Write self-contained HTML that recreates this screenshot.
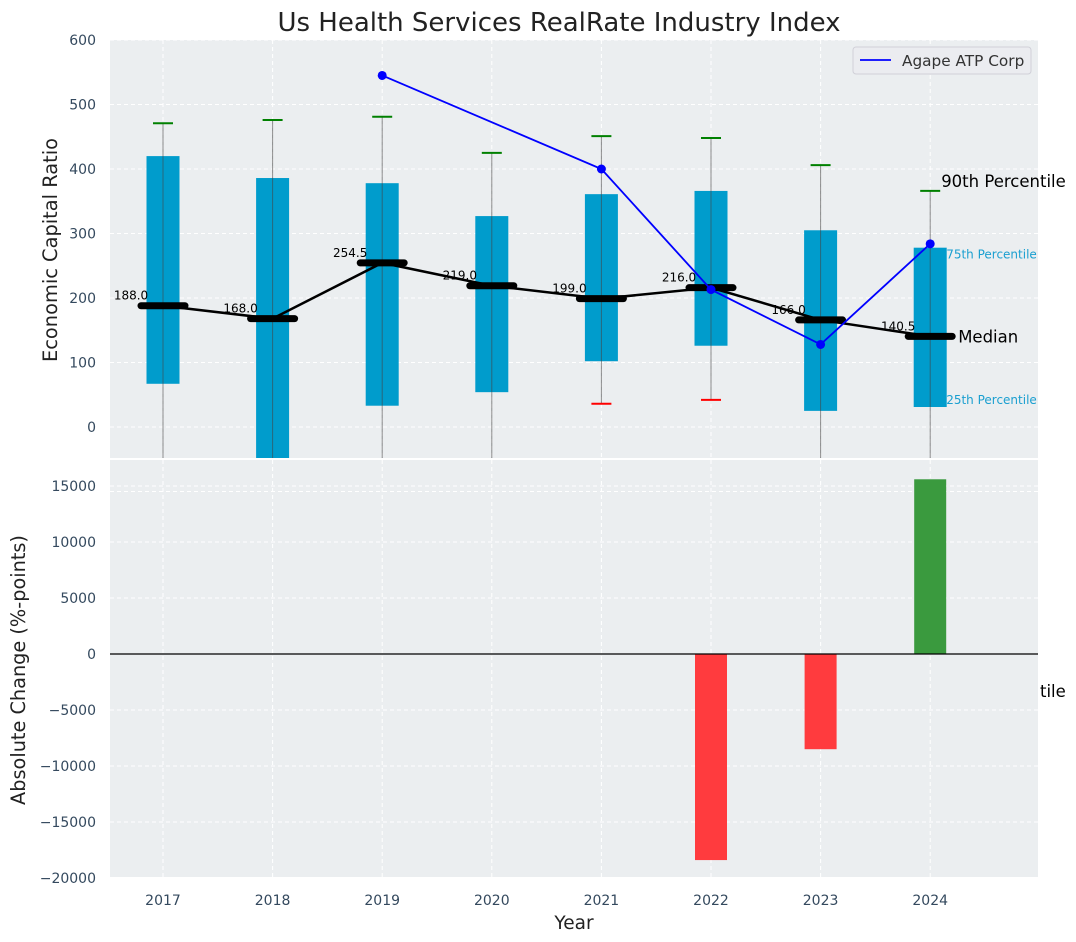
<!DOCTYPE html>
<html><head><meta charset="utf-8"><style>
body{margin:0;background:#fff;}
svg{display:block;font-family:"DejaVu Sans","Liberation Sans",sans-serif;}
</style></head><body>
<svg id="c" width="1076" height="942" viewBox="0 0 1076 942"></svg>
<script>
const years=[2017,2018,2019,2020,2021,2022,2023,2024];
const q75=[420,386,378,327,361,366,305,278];
const q25=[67,-60,33,54,102,126,25,31];
const p90=[471,476,481,425,451,448,406,366];
const p10=[-100,-100,-100,-100,36,42,-100,-100];
const medians=[188,168,254.5,219,199,216,166,140.5];
const agapeYears=[2019,2021,2022,2023,2024];
const agapeVals=[545,400,213,128,284];
const changeYears=[2022,2023,2024];
const changeVals=[-18400,-8500,15600];
const topTicks=[0,100,200,300,400,500,600];
const botTicks=[-20000,-15000,-10000,-5000,0,5000,10000,15000];

const NS="http://www.w3.org/2000/svg";
const svg=document.getElementById('c');
function el(t,a,p){const e=document.createElementNS(NS,t);for(const k in a)e.setAttribute(k,a[k]);(p||svg).appendChild(e);return e;}
const fmt=t=>t<0?'\u2212'+(-t):String(t);
const L=110,R=1038;
const X=y=>163+(y-2017)*109.6;
const T0=40,T1=458,B0=460,B1=877;
const yT=v=>427-v*0.645;
const yB=v=>654-v*(56/5000);

let e=el('rect',{x:L,y:T0,width:R-L,height:T1-T0,fill:'#ebeef0'});

e=el('rect',{x:L,y:B0,width:R-L,height:B1-B0,fill:'#ebeef0'});


const gT=el('g',{});
const gB=el('g',{});
topTicks.forEach(t=>{const y=yT(t);
 el('line',{x1:L,x2:R,y1:y,y2:y,stroke:'#fff','stroke-dasharray':'4,3','stroke-width':1},gT);
 e=el('text',{x:96,y:y+5,'text-anchor':'end','font-size':14,fill:'#34495e'});e.textContent=fmt(t);
 
});
el('line',{x1:L,x2:R,y1:yT(-100),y2:yT(-100),stroke:'#fff','stroke-dasharray':'4,3'},gT);
botTicks.forEach(t=>{const y=yB(t);
 el('line',{x1:L,x2:R,y1:y,y2:y,stroke:'#fff','stroke-dasharray':'4,3'},gB);
 e=el('text',{x:96,y:y+5,'text-anchor':'end','font-size':14,fill:'#34495e'});e.textContent=fmt(t);
 
});
years.forEach(yr=>{const x=X(yr);
 el('line',{x1:x,x2:x,y1:T0,y2:T1,stroke:'#fff','stroke-dasharray':'4,3'},gT);
 el('line',{x1:x,x2:x,y1:B0,y2:B1,stroke:'#fff','stroke-dasharray':'4,3'},gB);
 e=el('text',{x:x,y:905,'text-anchor':'middle','font-size':14,fill:'#34495e'});e.textContent=yr;
 
});

const defs=el('defs',{});
const cp=el('clipPath',{id:'cpT'},defs);el('rect',{x:L,y:T0,width:R-L+80,height:T1-T0},cp);
const cg=el('g',{'clip-path':'url(#cpT)'});

years.forEach((yr,i)=>{const x=X(yr);
 e=el('rect',{x:x-16.5,y:yT(q75[i]),width:33,height:yT(q25[i])-yT(q75[i]),fill:'#009ccc'},cg);
 
 e=el('line',{x1:x,x2:x,y1:yT(p90[i]),y2:yT(p10[i]),stroke:'#444','stroke-opacity':0.6,'stroke-width':1},cg);
 
 e=el('line',{x1:x-10,x2:x+10,y1:yT(p90[i]),y2:yT(p90[i]),stroke:'green','stroke-width':2},cg);
 
 if(p10[i]>-48){e=el('line',{x1:x-10,x2:x+10,y1:yT(p10[i]),y2:yT(p10[i]),stroke:'red','stroke-width':2},cg);
 }
});
e=el('polyline',{points:years.map((y,i)=>X(y)+','+yT(medians[i])).join(' '),fill:'none',stroke:'#000','stroke-width':2.5},cg);

years.forEach((yr,i)=>{const x=X(yr),y=yT(medians[i]);
 e=el('line',{x1:x-22,x2:x+22,y1:y,y2:y,stroke:'#000','stroke-width':7,'stroke-linecap':'round'},cg);
 
 e=el('text',{x:x-32,y:y-6,'text-anchor':'middle','font-size':12,fill:'#000'},cg);e.textContent=medians[i].toFixed(1);
 
});
e=el('polyline',{points:agapeYears.map((y,i)=>X(y)+','+yT(agapeVals[i])).join(' '),fill:'none',stroke:'#0000ff','stroke-width':1.8},cg);

agapeYears.forEach((yr,i)=>{e=el('circle',{cx:X(yr),cy:yT(agapeVals[i]),r:4.5,fill:'#0000ff'},cg);
 });

const last=years.length-1,lx=X(years[last]);
e=el('text',{x:lx+11,y:yT(p90[last])-4,'font-size':16.5,fill:'#000'});e.textContent='90th Percentile';

e=el('text',{x:lx+16,y:yT(q75[last])+11,'font-size':12,fill:'#1a9fd0'});e.textContent='75th Percentile';

e=el('text',{x:lx+16,y:yT(q25[last])-3,'font-size':12,fill:'#1a9fd0'});e.textContent='25th Percentile';

e=el('text',{x:lx+28,y:yT(medians[last])+6,'font-size':16.5,fill:'#000'});e.textContent='Median';


changeYears.forEach((yr,i)=>{const v=changeVals[i],x=X(yr);
 e=el('rect',{x:x-16,y:Math.min(yB(v),yB(0)),width:32,height:Math.abs(yB(v)-yB(0)),fill:v<0?'#ff3b3e':'#3a9a3e'});
 
});
e=el('line',{x1:L,x2:R,y1:yB(0),y2:yB(0),stroke:'#000','stroke-width':1.2});

e=el('text',{x:1040,y:697,'font-size':16.5,fill:'#000'});e.textContent='tile';


const lg=el('g',{});
el('rect',{x:853,y:47,width:178,height:27,rx:3,fill:'#ebecf0',stroke:'#d0d0d8'},lg);
el('line',{x1:860,x2:891,y1:60,y2:60,stroke:'#0000ff','stroke-width':1.8},lg);
e=el('text',{x:902,y:66,'font-size':15.3,fill:'#333'},lg);e.textContent='Agape ATP Corp';

e=el('text',{x:559,y:31,'text-anchor':'middle','font-size':26,fill:'#222'});e.textContent='Us Health Services RealRate Industry Index';

e=el('text',{x:0,y:0,'text-anchor':'middle','font-size':19.4,fill:'#222',transform:'translate(57,250) rotate(-90)'});e.textContent='Economic Capital Ratio';

e=el('text',{x:0,y:0,'text-anchor':'middle','font-size':19.3,fill:'#222',transform:'translate(25,670) rotate(-90)'});e.textContent='Absolute Change (%-points)';

e=el('text',{x:574,y:929,'text-anchor':'middle','font-size':18.5,fill:'#222'});e.textContent='Year';

</script>
</body></html>
